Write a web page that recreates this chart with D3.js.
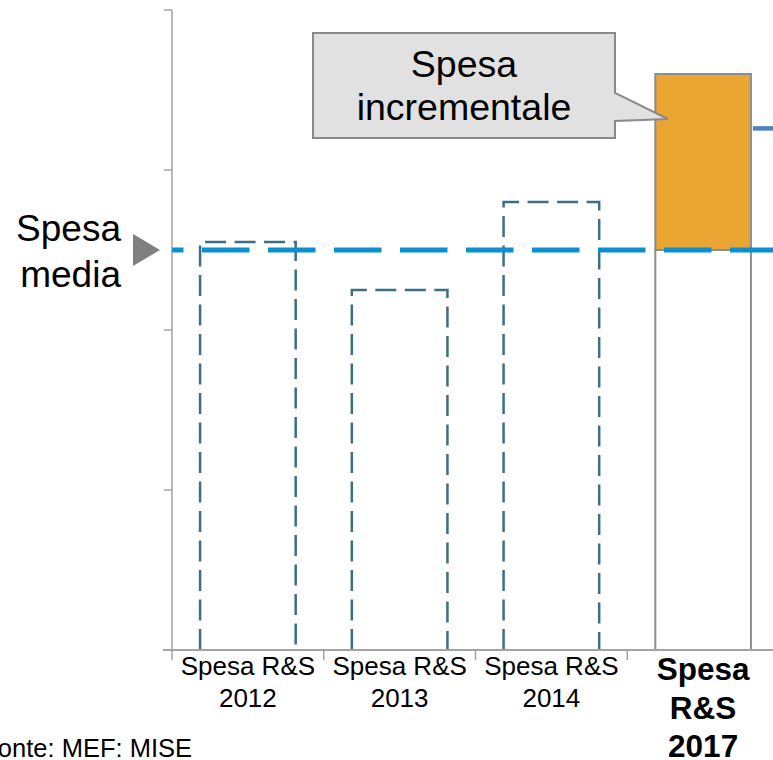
<!DOCTYPE html>
<html>
  <head>
    <script src="https://d3js.org/d3.v7.min.js"></script>
    <style>
      html,
      body {
        margin: 0;
        padding: 0;
        background: #fff;
        font-family: "Liberation Sans", Arial, sans-serif;
      }
    </style>
  </head>
  <body>
    <div id="chart"></div>
    <script>
      const width = 773;
      const height = 760;

      // data (arbitrary units, 1 unit = one tick)
      const categories = ["2012", "2013", "2014", "2017"];
      const pastYears = ["2012", "2013", "2014"];
      const pastValues = [2.55, 2.25, 2.8];
      const averageValue = 2.5;
      const value2017 = 3.6;
      const rightLineValue = 3.26;
      const yTicks = [0, 1, 2, 3, 4];
      const catLines = {
        "2012": ["Spesa R&S", "2012"],
        "2013": ["Spesa R&S", "2013"],
        "2014": ["Spesa R&S", "2014"],
        "2017": ["Spesa", "R&S", "2017"],
      };

      const axisColor = "#a3a3a3";
      const dashColor = "#3f6e84";
      const avgColor = "#0a90d0";
      const orange = "#eba532";

      const svg = d3
        .select("#chart")
        .append("svg")
        .attr("width", width)
        .attr("height", height)
        .style("display", "block");

      const x = d3.scaleBand().domain(categories).range([172, 779]).padding(0);
      const y = d3.scaleLinear().domain([0, 4]).range([650, 10]);
      const barW = x.bandwidth() * 0.63;
      const barX = (c) => x(c) + (x.bandwidth() - barW) / 2;

      // y axis
      svg
        .append("line")
        .attr("x1", x.range()[0])
        .attr("x2", x.range()[0])
        .attr("y1", y(4))
        .attr("y2", y(0))
        .attr("stroke", axisColor)
        .attr("stroke-width", 1.5);
      svg
        .selectAll(".ytick")
        .data(yTicks)
        .enter()
        .append("line")
        .attr("x1", x.range()[0] - 8)
        .attr("x2", x.range()[0])
        .attr("y1", (d) => y(d))
        .attr("y2", (d) => y(d))
        .attr("stroke", axisColor)
        .attr("stroke-width", 1.5);

      // dashed past bars (no bottom edge)
      svg
        .selectAll(".past")
        .data(pastYears)
        .enter()
        .append("path")
        .attr("d", (d, i) => {
          const x0 = barX(d);
          const x1 = x0 + barW;
          return `M${x0},${y(0)}V${y(pastValues[i])}H${x1}V${y(0)}`;
        })
        .attr("fill", "none")
        .attr("stroke", dashColor)
        .attr("stroke-width", 2.5)
        .attr("stroke-dasharray", "21,8.5");

      // 2017 bar: base up to the average, increment above it
      svg
        .append("rect")
        .attr("x", barX("2017"))
        .attr("y", y(averageValue))
        .attr("width", barW)
        .attr("height", y(0) - y(averageValue))
        .attr("fill", "#fff")
        .attr("stroke", "#8c8c8c")
        .attr("stroke-width", 2);
      svg
        .append("rect")
        .attr("x", barX("2017"))
        .attr("y", y(value2017))
        .attr("width", barW)
        .attr("height", y(averageValue) - y(value2017))
        .attr("fill", orange)
        .attr("stroke", "#8c8c8c")
        .attr("stroke-width", 2);

      // line cut at the right edge
      svg
        .append("line")
        .attr("x1", barX("2017") + barW + 2)
        .attr("x2", width + 10)
        .attr("y1", y(rightLineValue))
        .attr("y2", y(rightLineValue))
        .attr("stroke", "#4f81bd")
        .attr("stroke-width", 4.5);

      // x axis
      svg
        .append("line")
        .attr("x1", x.range()[0] - 9)
        .attr("x2", width)
        .attr("y1", y(0))
        .attr("y2", y(0))
        .attr("stroke", axisColor)
        .attr("stroke-width", 2);
      svg
        .selectAll(".xtick")
        .data(categories)
        .enter()
        .append("line")
        .attr("x1", (d) => x(d))
        .attr("x2", (d) => x(d))
        .attr("y1", y(0))
        .attr("y2", y(0) + 10)
        .attr("stroke", axisColor)
        .attr("stroke-width", 1.5);

      // average line
      svg
        .append("line")
        .attr("x1", x.range()[0])
        .attr("x2", width)
        .attr("y1", y(averageValue))
        .attr("y2", y(averageValue))
        .attr("stroke", avgColor)
        .attr("stroke-width", 5)
        .attr("stroke-dasharray", "47.5,18.5")
        .attr("stroke-dashoffset", 36);

      // category labels
      const labels = svg
        .selectAll(".xlabel")
        .data(categories)
        .enter()
        .append("text")
        .attr("text-anchor", "middle")
        .attr("fill", "#000")
        .style("font-size", (d) => (d === "2017" ? "31.5px" : "26px"))
        .style("font-weight", (d) => (d === "2017" ? "bold" : "normal"));
      labels
        .selectAll("tspan")
        .data((d) => catLines[d].map((t) => ({ t, c: d })))
        .enter()
        .append("tspan")
        .attr("x", (d) => x(d.c) + x.bandwidth() / 2)
        .attr("y", (d, i) =>
          d.c === "2017" ? 680 + i * 38.5 : 675 + i * 31.5
        )
        .text((d) => d.t);

      // "Spesa media" marker
      svg
        .append("path")
        .attr(
          "d",
          `M133,${y(averageValue) - 16}L160,${y(averageValue)}L133,${
            y(averageValue) + 16
          }Z`
        )
        .attr("fill", "#808080");
      svg
        .append("text")
        .attr("text-anchor", "end")
        .style("font-size", "37px")
        .selectAll("tspan")
        .data(["Spesa", "media"])
        .enter()
        .append("tspan")
        .attr("x", 121)
        .attr("y", (d, i) => 241 + i * 45.5)
        .text((d) => d);

      // callout
      const tipY = y(value2017) + 45;
      svg
        .append("path")
        .attr(
          "d",
          `M313,33H615V93L668,${tipY}L615,121V138H313Z`
        )
        .attr("fill", "#e1e1e1")
        .attr("stroke", "#8a8a8a")
        .attr("stroke-width", 2);
      svg
        .append("text")
        .attr("text-anchor", "middle")
        .style("font-size", "37.5px")
        .selectAll("tspan")
        .data(["Spesa", "incrementale"])
        .enter()
        .append("tspan")
        .attr("x", 464)
        .attr("y", (d, i) => 77 + i * 43)
        .text((d) => d);

      // source (starts off the left edge, as in the original)
      svg
        .append("text")
        .attr("x", 192)
        .attr("y", 757)
        .attr("text-anchor", "end")
        .style("font-size", "25.5px")
        .text("Fonte: MEF: MISE");
    </script>
  </body>
</html>
